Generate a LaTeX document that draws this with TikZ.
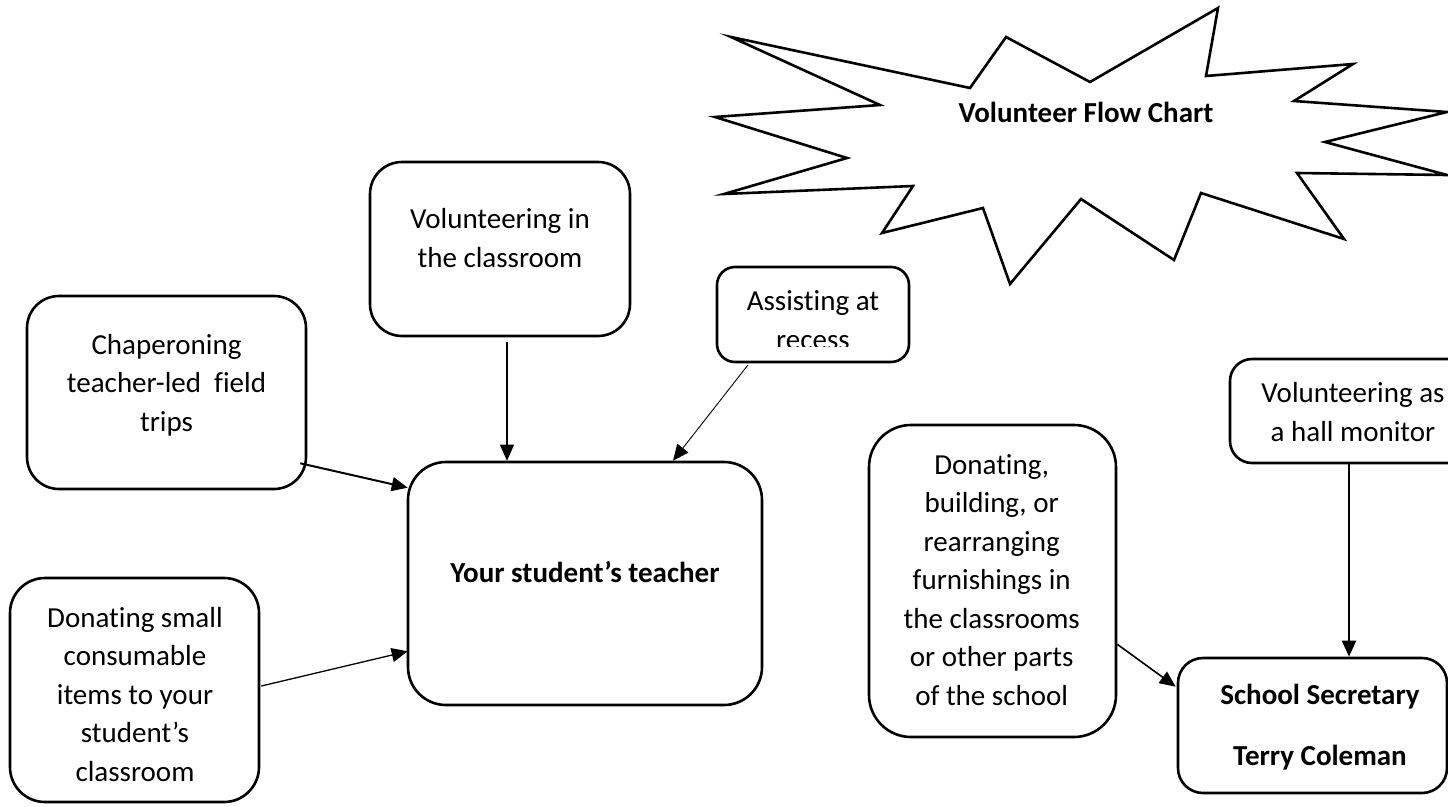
\documentclass[tikz,border=0pt]{standalone}
\usepackage{fontspec}
\setmainfont{Carlito}[Ligatures=NoCommon]
\usetikzlibrary{arrows.meta,calc}
\begin{document}
\begin{tikzpicture}[x=1pt,y=-1pt,
  box/.style={draw, line width=2.6pt, rounded corners=#1, inner sep=0pt},
  txt/.style={inner sep=0pt, align=center, font=\fontsize{29}{38.5}\selectfont},
  btxt/.style={inner sep=0pt, align=center, font=\fontsize{29}{61}\selectfont\bfseries},
  arr/.style={-{Triangle[length=16pt,width=14pt]}, line width=#1},
  burst/.style={draw, line width=2.6pt, line join=miter}]
\clip (0,0) rectangle (1448,806);
% starburst
\draw[burst] (731,37) -- (970,88) -- (1006,37) -- (1090,82) -- (1218,8) -- (1206,76)
  -- (1353,64) -- (1294,101) -- (1447,112) -- (1325,142) -- (1447,175) -- (1297,173)
  -- (1344,239) -- (1201,193) -- (1174,260) -- (1081,199) -- (1010,284) -- (983,208)
  -- (882,233) -- (913,186) -- (724,194) -- (847,158) -- (715,117) -- (880,105) -- cycle;
\node[btxt] (title) at (1086,112.5) {Volunteer Flow Chart};
% boxes
\node[box=32pt, minimum width=279pt, minimum height=193pt] (chap) at (166.5,392.5) {};
\node[box=35pt, minimum width=249pt, minimum height=224pt] (dsmall) at (134.5,690) {};
\node[box=32pt, minimum width=260pt, minimum height=174pt] (vol) at (500,249) {};
\node[box=18pt, minimum width=192pt, minimum height=95pt] (assist) at (813,314.5) {};
\node[box=38pt, minimum width=354pt, minimum height=243pt] (teacher) at (585,583.5) {};
\node[box=42pt, minimum width=247pt, minimum height=312pt] (dbuild) at (992.5,581) {};
\node[box=22pt, minimum width=246pt, minimum height=104pt] (hall) at (1353,411) {};
\node[box=25pt, minimum width=269pt, minimum height=135pt] (sec) at (1312.5,725.5) {};
% texts
\node[txt] (chaptxt) at (166.5,385) {Chaperoning\\teacher-led\ \ field\\trips};
\node[txt] (dsmalltxt) at (135,694.5) {Donating small\\consumable\\items to your\\student’s\\classroom};
\node[txt] (voltxt) at (500,238) {Volunteering in\\the classroom};
\begin{scope}
\clip (717,267) rectangle (909,346);
\node[txt] (assisttxt) at (813,320) {Assisting at\\recess};
\end{scope}
\node[btxt] (teachertxt) at (585,572) {Your student’s teacher};
\node[txt] (dbuildtxt) at (991.7,580) {Donating,\\building, or\\rearranging\\furnishings in\\the classrooms\\or other parts\\of the school};
\node[txt] (halltxt) at (1353,412) {Volunteering as\\a hall monitor};
\node[btxt] (sectxt) at (1320,727) {School Secretary\\Terry Coleman};
% connectors
\draw[arr=2pt] ([shift={(-7,-27)}]chap.south east) -- ([shift={(1,27)}]teacher.north west);
\draw[arr=1.3pt] ([shift={(1,-4)}]dsmall.east) -- ([shift={(1,-55)}]teacher.south west);
\draw[arr=1.2pt] ([shift={(7,5)}]vol.south) -- ([shift={(-78,0)}]teacher.north);
\draw[arr=0.9pt] ([shift={(32,2)}]assist.south west) -- ([shift={(88,0)}]teacher.north);
\draw[arr=1.6pt] ([shift={(0,-94)}]dbuild.south east) -- ([shift={(-1,30)}]sec.north west);
\draw[arr=2pt] ([shift={(-4,0)}]hall.south) -- ([shift={(36.5,0)}]sec.north);
\end{tikzpicture}
\end{document}
